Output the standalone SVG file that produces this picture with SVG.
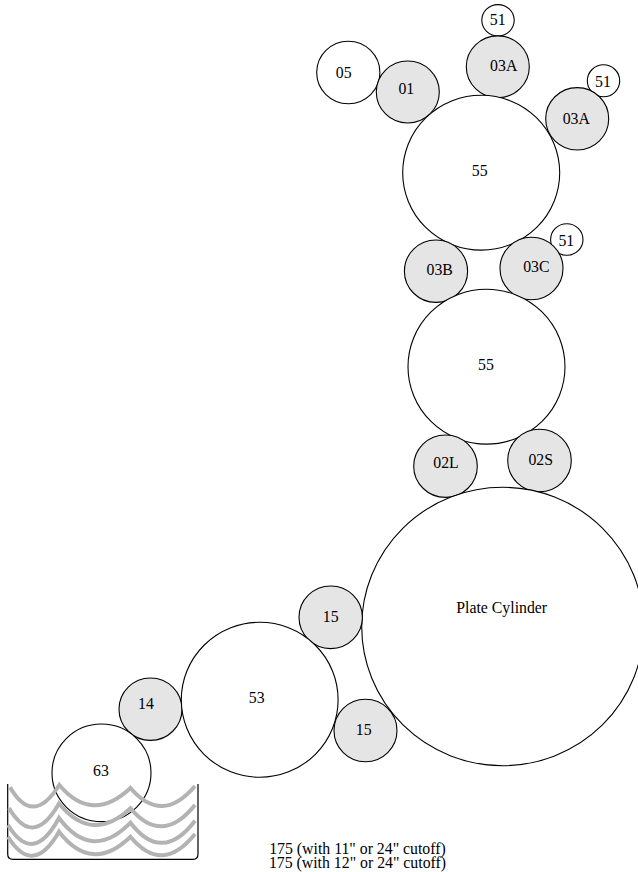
<svg xmlns="http://www.w3.org/2000/svg" width="638" height="872" viewBox="0 0 638 872">
<style>
ellipse{stroke:#000;stroke-width:1.1;fill:#fff}
.g ellipse{fill:#e5e5e5}
text{font-family:"Liberation Serif","Times New Roman",serif;font-size:15.800px;fill:#000;text-anchor:middle}
.wave{fill:none;stroke:#b3b3b3;stroke-width:4;stroke-linejoin:miter}
.tray{fill:none;stroke:#000;stroke-width:1.200}
</style>
<rect width="638" height="872" fill="#fff"/>
<g id="n05"><ellipse cx="348.300" cy="72.500" rx="31.600" ry="31.200"/><text x="343.700" y="77.700">05</text></g>
<g id="n01" class="g"><ellipse cx="407.800" cy="92" rx="31.500" ry="31"/><text x="406.300" y="94.300">01</text></g>
<g id="n51a"><ellipse cx="498" cy="20.300" rx="16.200" ry="15.700"/><text x="497.700" y="25">51</text></g>
<g id="n03Aa" class="g"><ellipse cx="497.800" cy="66.800" rx="31.500" ry="30.900"/><text x="503.700" y="71">03A</text></g>
<g id="n51b"><ellipse cx="603.500" cy="80.800" rx="16.200" ry="16"/><text x="603" y="87">51</text></g>
<g id="n03Ab" class="g"><ellipse cx="577.200" cy="118.800" rx="31.500" ry="31.200"/><text x="576.300" y="123.700">03A</text></g>
<g id="n55a"><ellipse cx="481.200" cy="172.700" rx="78.500" ry="77.400"/><text x="479.700" y="176.300">55</text></g>
<g id="n51c"><ellipse cx="566.800" cy="239.500" rx="16.200" ry="15.800"/><text x="566.300" y="245.500">51</text></g>
<g id="n03B" class="g"><ellipse cx="436" cy="271.200" rx="31.600" ry="31.200"/><text x="439.700" y="275">03B</text></g>
<g id="n03C" class="g"><ellipse cx="531.500" cy="268.500" rx="31.500" ry="31.200"/><text x="536.300" y="272.300">03C</text></g>
<g id="n55b"><ellipse cx="486.500" cy="366.700" rx="78.500" ry="77.400"/><text x="486" y="370">55</text></g>
<g id="n02L" class="g"><ellipse cx="445.500" cy="466.200" rx="31.800" ry="31.200"/><text x="446" y="468.300">02L</text></g>
<g id="n02S" class="g"><ellipse cx="539.500" cy="460.500" rx="31.800" ry="31.200"/><text x="540.700" y="465">02S</text></g>
<g id="nPlate"><ellipse cx="502.700" cy="626.500" rx="141" ry="139.200"/><text x="501.700" y="612.700">Plate Cylinder</text></g>
<g id="n15a" class="g"><ellipse cx="330.700" cy="617.300" rx="31.700" ry="31.300"/><text x="330.700" y="622">15</text></g>
<g id="n15b" class="g"><ellipse cx="365.500" cy="730.500" rx="31.500" ry="31.200"/><text x="363.700" y="735">15</text></g>
<g id="n14" class="g"><ellipse cx="150.500" cy="709.200" rx="31.500" ry="31.200"/><text x="146" y="709">14</text></g>
<g id="n53"><ellipse cx="259.700" cy="699.800" rx="78.400" ry="77.500"/><text x="256.700" y="702.700">53</text></g>
<g id="n63"><ellipse cx="101.500" cy="772.800" rx="49.500" ry="48.800"/><text x="101" y="776">63</text></g>
<g id="connectors">
<path class="tray" d="M7.700 784V854Q7.700 859.300 13 859.300H193Q198 859.300 198 854V784"/>
<g id="waves">
<path class="wave" d="M10 787.300Q33 827 59.300 785Q92 824 130.500 788Q162 825 195 786"/>
<path class="wave" d="M9 808Q33 849 59 803.500Q92 844 130.500 808.300Q162 846 195 805"/>
<path class="wave" d="M8 825Q33 866 59 818Q92 862 130.500 822.700Q162 864 195 820.700"/>
<path class="wave" d="M8 836.700Q33 877 59 831.700Q92 874 130.500 836.700Q162 875 195 834"/>
</g>
</g>
<g id="labels"><text x="357.500" y="854">175 (with 11" or 24" cutoff)</text><text x="357.500" y="868">175 (with 12" or 24" cutoff)</text></g>
</svg>
